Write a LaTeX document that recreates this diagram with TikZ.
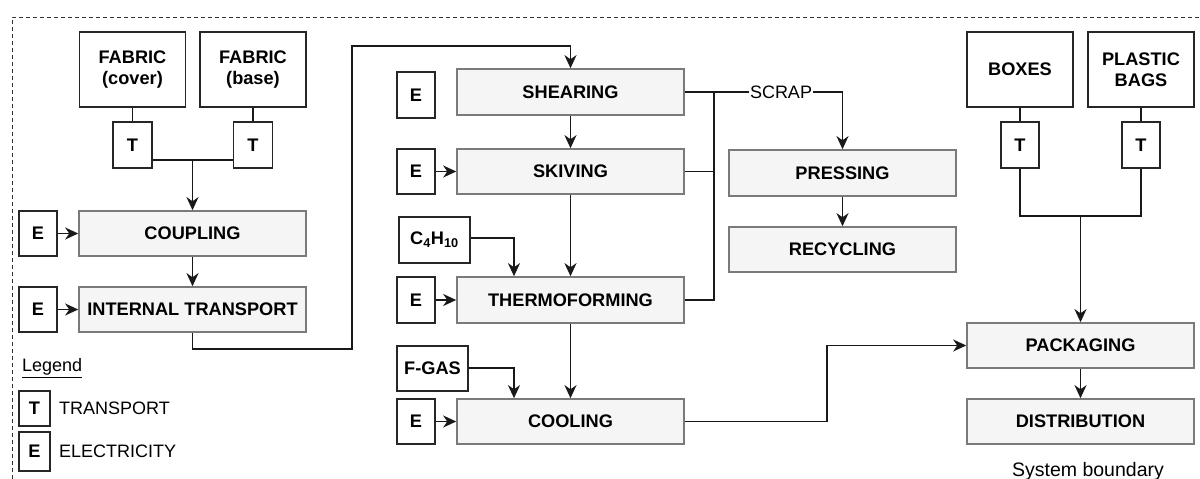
\documentclass[tikz,border=0pt]{standalone}
\usepackage{fontspec}
\setmainfont{Liberation Sans}
\usetikzlibrary{arrows.meta}
\definecolor{boxgray}{HTML}{F5F5F5}
\definecolor{edgegray}{HTML}{7A7A7A}
\begin{document}
\begin{tikzpicture}[x=1pt,y=-1pt,
  every node/.style={font=\fontsize{18.2}{21}\selectfont\bfseries, inner sep=0pt, align=center},
  wbox/.style={draw=black!85, line width=1.6pt, fill=white},
  gbox/.style={draw=edgegray, line width=1.6pt, fill=boxgray, minimum width=227pt, minimum height=45pt},
  ebox/.style={wbox, minimum width=38pt, minimum height=45pt},
  srcbox/.style={wbox, minimum width=106pt, minimum height=75pt},
  plain/.style={font=\fontsize{18}{21}\selectfont},
  conn/.style={line width=1.6pt, black!90},
  arr/.style={conn, -{Stealth[length=13pt,width=12pt,inset=4pt]}},
]
\useasboundingbox (0,0) rectangle (1200,479);
% system boundary
\draw[line width=0.9pt, black!80, dash pattern=on 4pt off 3pt] (12,479) -- (12,17) -- (1200,17);

% left column
\node[srcbox] (fabc) at (132.5,69.5) {FABRIC\\(cover)};
\node[srcbox] (fabb) at (253,69.5) {FABRIC\\(base)};
\node[ebox, minimum width=39pt, minimum height=46pt] (Tl) at (132.5,145) {T};
\node[ebox, minimum width=39pt, minimum height=46pt] (Tr) at (253,145) {T};
\node[ebox] (Ecoup) at (38,233.5) {E};
\node[gbox] (coup) at (192.5,233.5) {COUPLING};
\node[ebox] (Eit) at (38,309.5) {E};
\node[gbox] (it) at (192.5,309.5) {INTERNAL TRANSPORT};

% legend
\node[plain, anchor=west] (leg) at (22,368) {\underline{Legend}};
\node[wbox, minimum width=31pt, minimum height=35pt] (LT) at (34.5,408.5) {T};
\node[plain, anchor=west] (LTt) at (59,408.5) {TRANSPORT};
\node[wbox, minimum width=31pt, minimum height=39pt] (LE) at (34.5,451.5) {E};
\node[plain, anchor=west] (LEt) at (59,451.5) {ELECTRICITY};

% middle column
\node[ebox, minimum height=46pt] (Esh) at (416,95) {E};
\node[gbox, minimum height=46pt] (shear) at (570.5,92) {SHEARING};
\node[ebox] (Esk) at (416,171.5) {E};
\node[gbox] (skiv) at (570.5,171.5) {SKIVING};
\node[wbox, minimum width=71pt, minimum height=46pt] (c4) at (434.5,240) {C\textsubscript{4}H\textsubscript{10}};
\node[ebox, minimum height=46pt] (Eth) at (416,300) {E};
\node[gbox, minimum height=46pt] (therm) at (570.5,300) {THERMOFORMING};
\node[wbox, minimum width=71pt, minimum height=45pt] (fgas) at (432.5,368.5) {F-GAS};
\node[ebox] (Eco) at (416,421.5) {E};
\node[gbox] (cool) at (570.5,421.5) {COOLING};

% scrap branch
\node[gbox, minimum height=46pt] (press) at (842.5,173) {PRESSING};
\node[gbox] (recyc) at (842.5,249.5) {RECYCLING};
\node[plain, inner sep=1pt] (scrap) at (781,92) {SCRAP};

% right column
\node[srcbox] (boxes) at (1020,69.5) {BOXES};
\node[srcbox] (pbags) at (1141,69.5) {PLASTIC\\BAGS};
\node[ebox, minimum height=46pt] (Tb) at (1020,145) {T};
\node[ebox, minimum height=46pt] (Tp) at (1141,145) {T};
\node[gbox] (pack) at (1080.5,345.5) {PACKAGING};
\node[gbox] (dist) at (1080.5,421.5) {DISTRIBUTION};
\node[plain, font=\fontsize{19.5}{22}\selectfont] (sysb) at (1088,471) {System boundary};

% connectors left
\draw[conn] (fabc.south) -- (Tl.north);
\draw[conn] (fabb.south) -- (Tr.north);
\draw[conn] ([yshift=-15pt]Tl.east) -- ([yshift=-15pt]Tr.west);
\coordinate (j1) at (192.5,160);
\draw[arr] (j1) -- (coup.north);
\draw[arr] (Ecoup.east) -- (coup.west);
\draw[arr] (coup.south) -- (it.north);
\draw[arr] (Eit.east) -- (it.west);
\draw[arr] (it.south) -- ++(0,16) -| (352,46) -| (shear.north);

% middle connectors
\draw[arr] (shear.south) -- (skiv.north);
\draw[arr] (Esk.east) -- (skiv.west);
\draw[arr] (skiv.south) -- (therm.north);
\draw[arr] (c4.east |- 0,238) -| ([xshift=-56.5pt]therm.north);
\draw[arr] (Eth.east) -- (therm.west);
\draw[arr] (therm.south) -- (cool.north);
\draw[arr] (fgas.east |- 0,368) -| ([xshift=-56.5pt]cool.north);
\draw[arr] (Eco.east) -- (cool.west);
\draw[arr] (cool.east) -- ++(142,0) |- (pack.west);

% scrap connectors
\coordinate (sj) at (714,92);
\draw[conn] (shear.east) -- (scrap.west);
\draw[conn] (therm.east) -| (sj);
\draw[conn] (skiv.east) -- (skiv.east -| sj);
\draw[arr] (scrap.east) -| (press.north);
\draw[arr] (press.south) -- (recyc.north);

% right connectors
\draw[conn] (boxes.south) -- (Tb.north);
\draw[conn] (pbags.south) -- (Tp.north);
\draw[conn] (Tb.south) -- ++(0,47) -| (Tp.south);
\coordinate (j2) at (1080.5,215);
\draw[arr] (j2) -- (pack.north);
\draw[arr] (pack.south) -- (dist.north);
\end{tikzpicture}
\end{document}
